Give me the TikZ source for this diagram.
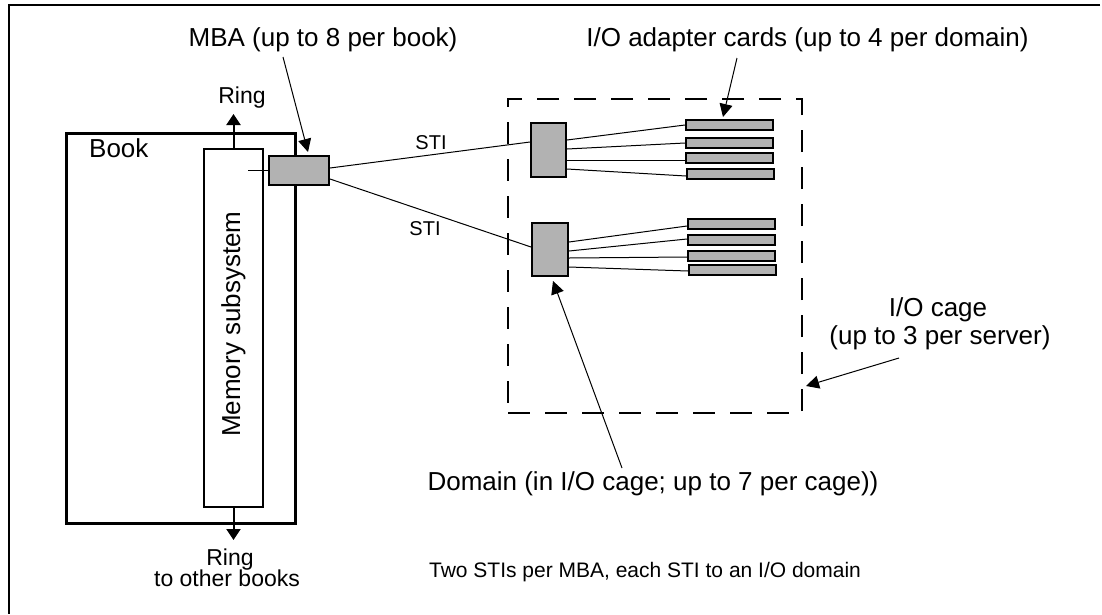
\documentclass[tikz,border=0pt]{standalone}
\usepackage{fontspec}
\setmainfont{Liberation Sans}
\usetikzlibrary{arrows.meta,calc}

\begin{document}
\begin{tikzpicture}[x=1pt,y=-1pt,
  big/.style={font=\fontsize{26}{30}\selectfont, inner sep=0pt},
  mid/.style={font=\fontsize{23}{27}\selectfont, inner sep=0pt, align=center},
  small/.style={font=\fontsize{20}{24}\selectfont, inner sep=0pt},
  blk/.style={draw, inner sep=0pt},
  part/.style={draw, line width=2pt, fill=gray!60, inner sep=0pt},
  card/.style={part, minimum width=87pt, minimum height=10pt},
  dom/.style={part, minimum width=35pt, minimum height=54pt},
  wire/.style={line width=1pt},
  callout/.style={line width=1pt, -{Triangle[length=13pt,width=13pt]}},
  ringarrow/.style={line width=2pt, -{Triangle[length=11pt,width=14pt]}},
]
\useasboundingbox (0,0) rectangle (1102,614);

% partial frame
\draw[line width=1.2pt] (1100,5) -- (9,5) -- (9,614);

% book and memory subsystem
\node[blk, line width=3pt, minimum width=229pt, minimum height=390pt] (book) at (180.5,328) {};
\node[big, anchor=base west] (booklbl) at (89,157) {Book};
\node[blk, line width=2pt, fill=white, minimum width=59pt, minimum height=358pt] (mem) at (233.5,328) {};
\node[big, rotate=90, anchor=base west] (memlbl) at (240,437) {Memory subsystem};

% MBA
\node[part, minimum width=60pt, minimum height=29pt] (mba) at (299,170.5) {};
\coordinate (memtap) at (248,170.5);
\draw[wire] (memtap) -- (mba.west);

% ring connections
\coordinate (ringup) at (233.5,114);
\coordinate (ringdown) at (233.5,540);
\draw[ringarrow] (mem.north) -- (ringup);
\draw[ringarrow] (mem.south) -- (ringdown);
\node[mid, anchor=base] (ringtop) at (242,103) {Ring};
\node[mid, anchor=base] (ringbot) at (230,565) {Ring};
\node[mid, anchor=base] (ringbot2) at (227,586) {to other books};

% I/O cage
\node[draw, line width=2pt, dash pattern=on 22pt off 15pt, minimum width=294pt, minimum height=314pt, inner sep=0pt] (cage) at (655,256) {};

% domains
\node[dom] (d1) at (548.5,150) {};
\node[dom, minimum width=36pt, minimum height=53pt] (d2) at (550,249.5) {};

% adapter cards
\node[card] (c11) at (729.5,125) {};
\node[card] (c12) at (729.5,143) {};
\node[card] (c13) at (729.5,158) {};
\node[card] (c14) at (730.5,174) {};
\node[card] (c21) at (731.5,224) {};
\node[card] (c22) at (731.5,240) {};
\node[card] (c23) at (731.5,256) {};
\node[card] (c24) at (732.5,269.5) {};

% STI links (yshift is measured upwards on the page)
\draw[wire] ([yshift=2.5pt]mba.east) -- ([yshift=8pt]d1.west);
\draw[wire] ([yshift=-8.5pt]mba.east) -- ([yshift=2.5pt]d2.west);
\node[small, anchor=base] (sti1) at (431,149) {STI};
\node[small, anchor=base] (sti2) at (425,235) {STI};

% domain to card links
\draw[wire] ([yshift=10pt]d1.east) -- (c11.west);
\draw[wire] ([yshift=1pt]d1.east) -- (c12.west);
\draw[wire] ([yshift=-10pt]d1.east) -- ([yshift=-2pt]c13.west);
\draw[wire] ([yshift=-19pt]d1.east) -- ([yshift=-2pt]c14.west);
\draw[wire] ([yshift=7.5pt]d2.east) -- ([yshift=-2pt]c21.west);
\draw[wire] ([yshift=-1.5pt]d2.east) -- ([yshift=1pt]c22.west);
\draw[wire] ([yshift=-8.5pt]d2.east) -- ([yshift=-1pt]c23.west);
\draw[wire] ([yshift=-17.5pt]d2.east) -- ([yshift=-1.5pt]c24.west);

% callout labels
\node[big, anchor=base] (mbalbl) at (323,46) {MBA (up to 8 per book)};
\coordinate (mbafrom) at (283,57);
\coordinate (mbato) at (308,152);
\draw[callout] (mbafrom) -- (mbato);

\node[big, anchor=base] (cardlbl) at (807.5,46) {I/O adapter cards (up to 4 per domain)};
\coordinate (cardfrom) at (737,58);
\coordinate (cardto) at (723,117);
\draw[callout] (cardfrom) -- (cardto);

\node[big, anchor=base] (cagelbl) at (938,316) {I/O cage};
\node[big, anchor=base] (cagelbl2) at (940,344) {(up to 3 per server)};
\coordinate (cagefrom) at (899,358);
\coordinate (cageto) at (806,386);
\draw[callout] (cagefrom) -- (cageto);

\node[big, anchor=base] (domlbl) at (653,490) {Domain (in I/O cage; up to 7 per cage))};
\coordinate (domfrom) at (622,468);
\coordinate (domto) at (553,281);
\draw[callout] (domfrom) -- (domto);

% caption
\node[font=\fontsize{21}{25}\selectfont, inner sep=0pt, anchor=base] (caption) at (645,577) {Two STIs per MBA, each STI to an I/O domain};
\end{tikzpicture}
\end{document}
